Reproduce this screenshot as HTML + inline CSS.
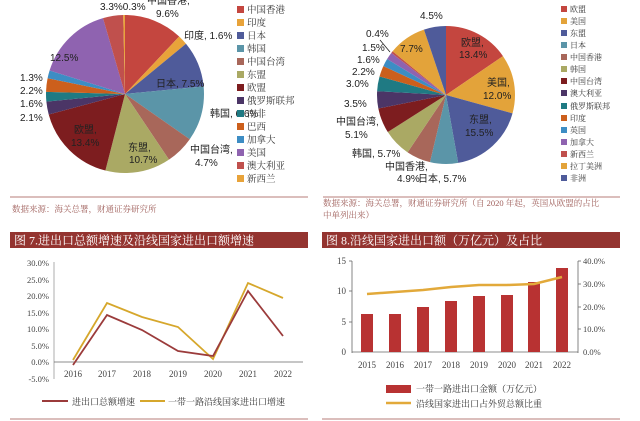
<!DOCTYPE html>
<html><head><meta charset="utf-8"><style>
body{margin:0;background:#fff;width:640px;height:421px;overflow:hidden}
svg{display:block}
.s{font-family:"Liberation Sans","Noto Sans CJK SC",sans-serif}
.c{font-family:"Liberation Serif","Noto Serif CJK SC",serif}
</style></head><body>
<svg width="640" height="421" viewBox="0 0 640 421" xmlns="http://www.w3.org/2000/svg">
<!-- LEFT PIE: total 79.8 -->
<g transform="rotate(-90 125 94)" fill="none" stroke-width="79">
<circle cx="125" cy="94" r="39.5" pathLength="79.8" stroke="#c4463f" stroke-dasharray="9.6 79.8" stroke-dashoffset="0"/>
<circle cx="125" cy="94" r="39.5" pathLength="79.8" stroke="#e8a33a" stroke-dasharray="1.6 79.8" stroke-dashoffset="-9.6"/>
<circle cx="125" cy="94" r="39.5" pathLength="79.8" stroke="#4f5b9a" stroke-dasharray="7.5 79.8" stroke-dashoffset="-11.2"/>
<circle cx="125" cy="94" r="39.5" pathLength="79.8" stroke="#5b95a8" stroke-dasharray="9 79.8" stroke-dashoffset="-18.7"/>
<circle cx="125" cy="94" r="39.5" pathLength="79.8" stroke="#a8675a" stroke-dasharray="4.7 79.8" stroke-dashoffset="-27.7"/>
<circle cx="125" cy="94" r="39.5" pathLength="79.8" stroke="#aaa964" stroke-dasharray="10.7 79.8" stroke-dashoffset="-32.4"/>
<circle cx="125" cy="94" r="39.5" pathLength="79.8" stroke="#7d1d1f" stroke-dasharray="13.4 79.8" stroke-dashoffset="-43.1"/>
<circle cx="125" cy="94" r="39.5" pathLength="79.8" stroke="#4b3566" stroke-dasharray="2.1 79.8" stroke-dashoffset="-56.5"/>
<circle cx="125" cy="94" r="39.5" pathLength="79.8" stroke="#1f7a83" stroke-dasharray="1.6 79.8" stroke-dashoffset="-58.6"/>
<circle cx="125" cy="94" r="39.5" pathLength="79.8" stroke="#cc5f1c" stroke-dasharray="2.2 79.8" stroke-dashoffset="-60.2"/>
<circle cx="125" cy="94" r="39.5" pathLength="79.8" stroke="#3d8dc4" stroke-dasharray="1.3 79.8" stroke-dashoffset="-62.4"/>
<circle cx="125" cy="94" r="39.5" pathLength="79.8" stroke="#8f63b0" stroke-dasharray="12.5 79.8" stroke-dashoffset="-63.7"/>
<circle cx="125" cy="94" r="39.5" pathLength="79.8" stroke="#c0504d" stroke-dasharray="3.3 79.8" stroke-dashoffset="-76.2"/>
<circle cx="125" cy="94" r="39.5" pathLength="79.8" stroke="#e8a33a" stroke-dasharray="0.3 79.8" stroke-dashoffset="-79.5"/>
</g>
<g class="s" font-size="10" fill="#222">
<text x="100" y="10">3.3%0.3%</text>
<text x="147" y="4">中国香港,</text><text x="156" y="17">9.6%</text>
<text x="184" y="39">印度, 1.6%</text>
<text x="156" y="87">日本, 7.5%</text>
<text x="210" y="117">韩国, 6.6%</text>
<text x="190" y="153">中国台湾,</text><text x="195" y="166">4.7%</text>
<text x="128" y="151">东盟,</text><text x="129" y="163">10.7%</text>
<text x="74" y="133">欧盟,</text><text x="71" y="146">13.4%</text>
<text x="50" y="61">12.5%</text>
<text x="20" y="81">1.3%</text><text x="20" y="94">2.2%</text><text x="20" y="107">1.6%</text><text x="20" y="121">2.1%</text>
</g>
<g class="c" font-size="9.5" fill="#333">
<rect x="237" y="6" width="7" height="7" fill="#c4463f"/><text x="247" y="13">中国香港</text>
<rect x="237" y="19" width="7" height="7" fill="#e8a33a"/><text x="247" y="26">印度</text>
<rect x="237" y="32" width="7" height="7" fill="#4f5b9a"/><text x="247" y="39">日本</text>
<rect x="237" y="45" width="7" height="7" fill="#5b95a8"/><text x="247" y="52">韩国</text>
<rect x="237" y="58" width="7" height="7" fill="#a8675a"/><text x="247" y="65">中国台湾</text>
<rect x="237" y="71" width="7" height="7" fill="#aaa964"/><text x="247" y="78">东盟</text>
<rect x="237" y="84" width="7" height="7" fill="#7d1d1f"/><text x="247" y="91">欧盟</text>
<rect x="237" y="97" width="7" height="7" fill="#4b3566"/><text x="247" y="104">俄罗斯联邦</text>
<rect x="237" y="110" width="7" height="7" fill="#1f7a83"/><text x="247" y="117">南非</text>
<rect x="237" y="123" width="7" height="7" fill="#cc5f1c"/><text x="247" y="130">巴西</text>
<rect x="237" y="136" width="7" height="7" fill="#3d8dc4"/><text x="247" y="143">加拿大</text>
<rect x="237" y="149" width="7" height="7" fill="#8f63b0"/><text x="247" y="156">美国</text>
<rect x="237" y="162" width="7" height="7" fill="#c0504d"/><text x="247" y="169">澳大利亚</text>
<rect x="237" y="175" width="7" height="7" fill="#e8a33a"/><text x="247" y="182">新西兰</text>
</g>
<line x1="10" y1="197" x2="308" y2="197" stroke="#cfa8a6" stroke-width="1.5"/>
<text class="c" x="12" y="212" font-size="8.5" fill="#a0605c">数据来源：海关总署，财通证券研究所</text>

<!-- RIGHT PIE: total 86.7 -->
<g transform="rotate(-90 446 95)" fill="none" stroke-width="69">
<circle cx="446" cy="95" r="34.5" pathLength="86.7" stroke="#c4463f" stroke-dasharray="13.4 86.7" stroke-dashoffset="0"/>
<circle cx="446" cy="95" r="34.5" pathLength="86.7" stroke="#e3a33a" stroke-dasharray="12 86.7" stroke-dashoffset="-13.4"/>
<circle cx="446" cy="95" r="34.5" pathLength="86.7" stroke="#4f5b9a" stroke-dasharray="15.5 86.7" stroke-dashoffset="-25.4"/>
<circle cx="446" cy="95" r="34.5" pathLength="86.7" stroke="#5b95a8" stroke-dasharray="5.7 86.7" stroke-dashoffset="-40.9"/>
<circle cx="446" cy="95" r="34.5" pathLength="86.7" stroke="#a8675a" stroke-dasharray="4.9 86.7" stroke-dashoffset="-46.6"/>
<circle cx="446" cy="95" r="34.5" pathLength="86.7" stroke="#aaa964" stroke-dasharray="5.7 86.7" stroke-dashoffset="-51.5"/>
<circle cx="446" cy="95" r="34.5" pathLength="86.7" stroke="#7d1d1f" stroke-dasharray="5.1 86.7" stroke-dashoffset="-57.2"/>
<circle cx="446" cy="95" r="34.5" pathLength="86.7" stroke="#4b3566" stroke-dasharray="3.5 86.7" stroke-dashoffset="-62.3"/>
<circle cx="446" cy="95" r="34.5" pathLength="86.7" stroke="#1f7a83" stroke-dasharray="3 86.7" stroke-dashoffset="-65.8"/>
<circle cx="446" cy="95" r="34.5" pathLength="86.7" stroke="#cc5f1c" stroke-dasharray="2.2 86.7" stroke-dashoffset="-68.8"/>
<circle cx="446" cy="95" r="34.5" pathLength="86.7" stroke="#3d8dc4" stroke-dasharray="1.6 86.7" stroke-dashoffset="-71"/>
<circle cx="446" cy="95" r="34.5" pathLength="86.7" stroke="#8f63b0" stroke-dasharray="1.5 86.7" stroke-dashoffset="-72.6"/>
<circle cx="446" cy="95" r="34.5" pathLength="86.7" stroke="#c0504d" stroke-dasharray="0.4 86.7" stroke-dashoffset="-74.1"/>
<circle cx="446" cy="95" r="34.5" pathLength="86.7" stroke="#e3a33a" stroke-dasharray="7.7 86.7" stroke-dashoffset="-74.5"/>
<circle cx="446" cy="95" r="34.5" pathLength="86.7" stroke="#4f5b9a" stroke-dasharray="4.5 86.7" stroke-dashoffset="-82.2"/>
</g>
<line x1="380" y1="40" x2="390" y2="52" stroke="#222" stroke-width="0.8"/>
<g class="s" font-size="10" fill="#222">
<text x="420" y="19">4.5%</text>
<text x="366" y="37">0.4%</text><text x="362" y="51">1.5%</text><text x="357" y="63">1.6%</text>
<text x="352" y="75">2.2%</text><text x="346" y="87">3.0%</text><text x="344" y="107">3.5%</text>
<text x="336" y="125">中国台湾,</text><text x="345" y="138">5.1%</text>
<text x="352" y="157">韩国, 5.7%</text>
<text x="385" y="170">中国香港,</text><text x="397" y="182">4.9%</text>
<text x="418" y="182">日本, 5.7%</text>
<text x="400" y="52">7.7%</text>
<text x="461" y="46">欧盟,</text><text x="459" y="58">13.4%</text>
<text x="487" y="86">美国,</text><text x="483" y="99">12.0%</text>
<text x="469" y="123">东盟,</text><text x="465" y="136">15.5%</text>
</g>
<g class="c" font-size="8" fill="#333">
<rect x="561" y="6" width="6" height="6" fill="#c4463f"/><text x="570" y="12">欧盟</text>
<rect x="561" y="18" width="6" height="6" fill="#e3a33a"/><text x="570" y="24">美国</text>
<rect x="561" y="30" width="6" height="6" fill="#4f5b9a"/><text x="570" y="36">东盟</text>
<rect x="561" y="42" width="6" height="6" fill="#5b95a8"/><text x="570" y="48">日本</text>
<rect x="561" y="54" width="6" height="6" fill="#a8675a"/><text x="570" y="60">中国香港</text>
<rect x="561" y="66" width="6" height="6" fill="#aaa964"/><text x="570" y="72">韩国</text>
<rect x="561" y="78" width="6" height="6" fill="#7d1d1f"/><text x="570" y="84">中国台湾</text>
<rect x="561" y="90" width="6" height="6" fill="#4b3566"/><text x="570" y="96">澳大利亚</text>
<rect x="561" y="103" width="6" height="6" fill="#1f7a83"/><text x="570" y="109">俄罗斯联邦</text>
<rect x="561" y="115" width="6" height="6" fill="#cc5f1c"/><text x="570" y="121">印度</text>
<rect x="561" y="127" width="6" height="6" fill="#3d8dc4"/><text x="570" y="133">英国</text>
<rect x="561" y="139" width="6" height="6" fill="#8f63b0"/><text x="570" y="145">加拿大</text>
<rect x="561" y="151" width="6" height="6" fill="#c0504d"/><text x="570" y="157">新西兰</text>
<rect x="561" y="163" width="6" height="6" fill="#e3a33a"/><text x="570" y="169">拉丁美洲</text>
<rect x="561" y="175" width="6" height="6" fill="#4f5b9a"/><text x="570" y="181">非洲</text>
</g>
<line x1="323" y1="197" x2="620" y2="197" stroke="#cfa8a6" stroke-width="1.5"/>
<text class="c" x="323" y="206" font-size="8.5" fill="#a0605c">数据来源：海关总署，财通证券研究所（自 2020 年起，英国从欧盟的占比</text>
<text class="c" x="323" y="218" font-size="8.5" fill="#a0605c">中单列出来）</text>

<!-- BOTTOM LEFT -->
<rect x="10" y="232" width="298" height="16" fill="#943430"/>
<text class="c" x="14" y="244.5" font-size="12" fill="#fff">图 7.进出口总额增速及沿线国家进出口额增速</text>
<g class="c" font-size="8.5" fill="#444" text-anchor="end">
<text x="49" y="266">30.0%</text><text x="49" y="283">25.0%</text><text x="49" y="299">20.0%</text>
<text x="49" y="316">15.0%</text><text x="49" y="332">10.0%</text><text x="49" y="349">5.0%</text>
<text x="49" y="365">0.0%</text><text x="49" y="382">-5.0%</text>
</g>
<line x1="54" y1="262" x2="54" y2="379" stroke="#999" stroke-width="0.8"/>
<line x1="54" y1="362" x2="303" y2="362" stroke="#666" stroke-width="0.8"/>
<g class="c" font-size="9" fill="#444" text-anchor="middle">
<text x="73" y="377">2016</text><text x="107" y="377">2017</text><text x="142" y="377">2018</text>
<text x="178" y="377">2019</text><text x="213" y="377">2020</text><text x="248" y="377">2021</text><text x="283" y="377">2022</text>
</g>
<polyline fill="none" stroke="#d6a72c" stroke-width="1.8" points="73,360 107,303 142,317 178,327 213,359 248,283 283,298"/>
<polyline fill="none" stroke="#9b3b3b" stroke-width="1.8" points="73,365 107,315 142,330 178,351 213,356 248,291 283,336"/>
<line x1="42" y1="401" x2="68" y2="401" stroke="#9b3b3b" stroke-width="2"/>
<text class="c" x="72" y="405" font-size="9" fill="#333">进出口总额增速</text>
<line x1="140" y1="401" x2="165" y2="401" stroke="#d6a72c" stroke-width="2"/>
<text class="c" x="168" y="405" font-size="9" fill="#333">一带一路沿线国家进出口增速</text>
<line x1="10" y1="419" x2="308" y2="419" stroke="#cfa8a6" stroke-width="1.5"/>

<!-- BOTTOM RIGHT -->
<rect x="322" y="232" width="298" height="16" fill="#943430"/>
<text class="c" x="326" y="244.5" font-size="12" fill="#fff">图 8.沿线国家进出口额（万亿元）及占比</text>
<line x1="352" y1="261" x2="352" y2="353" stroke="#666" stroke-width="0.8"/>
<line x1="352" y1="352" x2="578" y2="352" stroke="#666" stroke-width="0.8"/>
<line x1="578" y1="261" x2="578" y2="353" stroke="#666" stroke-width="0.8"/>
<g stroke="#666" stroke-width="0.8">
<line x1="349" y1="261" x2="352" y2="261"/><line x1="349" y1="291" x2="352" y2="291"/><line x1="349" y1="322" x2="352" y2="322"/>
<line x1="578" y1="261" x2="581" y2="261"/><line x1="578" y1="284" x2="581" y2="284"/><line x1="578" y1="307" x2="581" y2="307"/><line x1="578" y1="329" x2="581" y2="329"/>
</g>
<g class="c" font-size="9" fill="#444" text-anchor="end">
<text x="346" y="264">15</text><text x="346" y="294">10</text><text x="346" y="325">5</text><text x="346" y="355">0</text>
</g>
<g class="c" font-size="8.5" fill="#444">
<text x="583" y="264">40.0%</text><text x="583" y="287">30.0%</text><text x="583" y="310">20.0%</text>
<text x="583" y="332">10.0%</text><text x="583" y="355">0.0%</text>
</g>
<g fill="#b83232">
<rect x="361" y="314" width="12" height="38"/><rect x="389" y="314" width="12" height="38"/>
<rect x="417" y="307" width="12" height="45"/><rect x="445" y="301" width="12" height="51"/>
<rect x="473" y="296" width="12" height="56"/><rect x="501" y="295" width="12" height="57"/>
<rect x="528" y="282" width="12" height="70"/><rect x="556" y="268" width="12" height="84"/>
</g>
<polyline fill="none" stroke="#e2a93a" stroke-width="2.5" points="367,294 395,292 423,290 451,287 479,285 507,285 534,284 562,277"/>
<g class="c" font-size="9" fill="#444" text-anchor="middle">
<text x="367" y="368">2015</text><text x="395" y="368">2016</text><text x="423" y="368">2017</text><text x="451" y="368">2018</text>
<text x="479" y="368">2019</text><text x="507" y="368">2020</text><text x="534" y="368">2021</text><text x="562" y="368">2022</text>
</g>
<rect x="386" y="385" width="25" height="8" fill="#b83232"/>
<text class="c" x="416" y="392" font-size="9" fill="#333">一带一路进出口金额（万亿元）</text>
<line x1="386" y1="403" x2="411" y2="403" stroke="#e2a93a" stroke-width="2.5"/>
<text class="c" x="416" y="407" font-size="9" fill="#333">沿线国家进出口占外贸总额比重</text>
<line x1="322" y1="419" x2="620" y2="419" stroke="#cfa8a6" stroke-width="1.5"/>
</svg>
</body></html>
